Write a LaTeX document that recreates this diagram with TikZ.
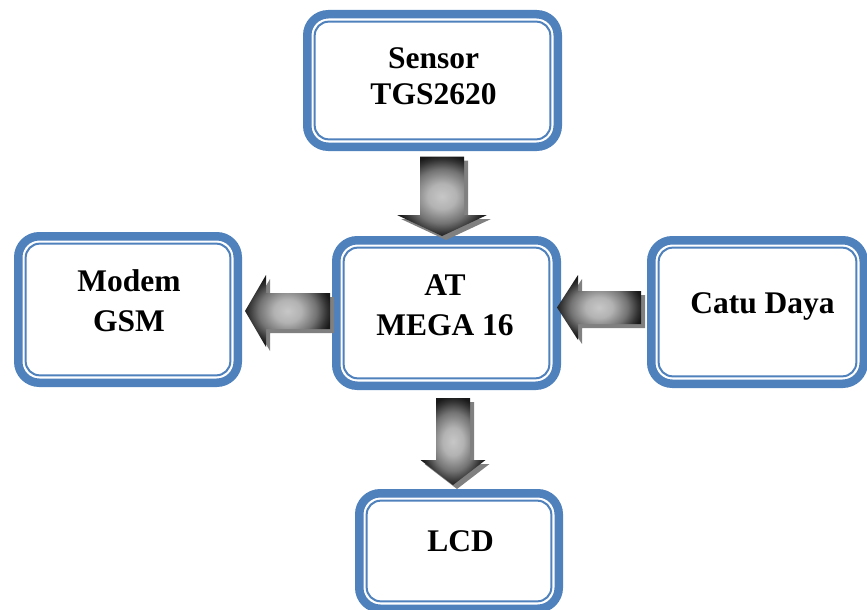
\documentclass[tikz,border=0pt]{standalone}
\usepackage{fontspec}
\setmainfont{Liberation Serif}
\usetikzlibrary{calc}
\definecolor{boxblue}{RGB}{79,129,189}
\pgfdeclareradialshading{arrowshade}{\pgfpointorigin}{color(0bp)=(black!22); color(8bp)=(black!30); color(17bp)=(black!55); color(23bp)=(black!80); color(26bp)=(black!90); color(50bp)=(black!90)}
% polygon of a block arrow: #1 tail, #2 tip, #3 head base, #4 half shaft, #5 half head
\newcommand\arrowpoly[5]{($(#1)!#4!90:(#2)$) -- ($(#3)!#4!-90:(#1)$) -- ($(#3)!#5!-90:(#1)$) -- (#2) -- ($(#3)!#5!90:(#1)$) -- ($(#3)!#4!90:(#1)$) -- ($(#1)!#4!-90:(#2)$) -- cycle}
% block arrow with shadow: #1 tail, #2 tip, #3 half shaft, #4 half head, #5 head length
\newcommand\blockarrow[5]{%
  \coordinate (#1-h) at ($(#2)!#5!(#1)$);
  \coordinate (#1-ss) at ($(#1)+(4,4)$);
  \coordinate (#1-st) at ($(#2)+(4,4)$);
  \coordinate (#1-sh) at ($(#1-h)+(4,4)$);
  \fill[arrowshadow] \arrowpoly{#1-ss}{#1-st}{#1-sh}{#3}{#4};
  \shade[shading=arrowshade] \arrowpoly{#1}{#2}{#1-h}{#3}{#4};
}
\newcommand\innerline[1]{\draw[innerblue] ([shift={(7.4,7.4)}]#1.north west) rectangle ([shift={(-7.4,-7.4)}]#1.south east);}
\begin{document}
\begin{tikzpicture}[x=1pt,y=-1pt,
  box/.style={rectangle, draw=boxblue, line width=8.5pt, rounded corners=21pt, fill=white, inner sep=0pt, outer sep=0pt},
  innerblue/.style={draw=boxblue, line width=2pt, rounded corners=14pt},
  arrowshadow/.style={fill=black!50},
  lbl/.style={font=\bfseries\fontsize{31.5}{36}\selectfont, inner sep=0pt, anchor=base}]
\useasboundingbox (0,0) rectangle (867,610);
\clip (0,0) rectangle (867,610);
% boxes
\node[box, minimum width=250.5pt, minimum height=132.5pt] (sensor) at (432.5,80.5) {};
\node[box, minimum width=219.5pt, minimum height=146.5pt] (modem) at (128,309.5) {};
\node[box, minimum width=220.5pt, minimum height=145.5pt] (at) at (446.5,313) {};
\node[box, minimum width=212.5pt, minimum height=143.5pt] (catu) at (757.5,312) {};
\node[box, minimum width=199.5pt, minimum height=115.5pt] (lcd) at (459,551) {};
\innerline{sensor}
\innerline{modem}
\innerline{at}
\innerline{catu}
\innerline{lcd}
% texts
\node[lbl] (sensor-t1) at (433.5,68.3) {Sensor};
\node[lbl] (sensor-t2) at (433.5,104.3) {TGS2620};
\node[lbl] (modem-t1) at (129,291) {Modem};
\node[lbl] (modem-t2) at (129,331) {GSM};
\node[lbl] (at-t1) at (445,295.7) {AT};
\node[lbl] (at-t2) at (445,335) {MEGA 16};
\node[lbl] (catu-t) at (762.5,313.3) {Catu Daya};
\node[lbl] (lcd-t) at (460.7,551.7) {LCD};
% arrow ends
\coordinate (a1) at (442,156.5);
\coordinate (a1t) at (442,236);
\coordinate (a2) at (453,398);
\coordinate (a2t) at (453,485);
\coordinate (a3) at (330,311);
\coordinate (a3t) at (245,311);
\coordinate (a4) at (641,307.5);
\coordinate (a4t) at (557,307.5);
\blockarrow{a1}{a1t}{22pt}{45pt}{21pt}
\blockarrow{a2}{a2t}{17pt}{32.5pt}{25pt}
\blockarrow{a3}{a3t}{18pt}{36pt}{21pt}
\blockarrow{a4}{a4t}{16.5pt}{32.5pt}{21pt}
\end{tikzpicture}
\end{document}
